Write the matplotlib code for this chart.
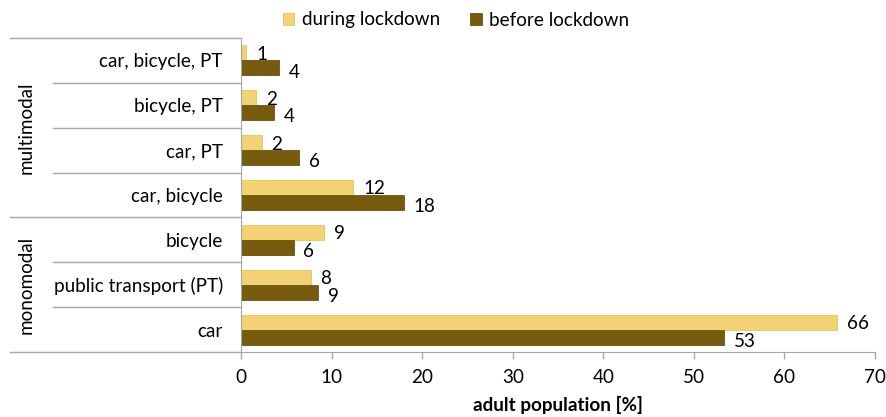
import matplotlib
matplotlib.use("Agg")
import matplotlib.pyplot as plt
from matplotlib.lines import Line2D
import numpy as np

categories = ["car", "public transport (PT)", "bicycle", "car, bicycle",
              "car, PT", "bicycle, PT", "car, bicycle, PT"]
during = [65.8, 7.7, 9.2, 12.4, 2.3, 1.7, 0.6]
before = [53.3, 8.5, 5.8, 18.0, 6.4, 3.6, 4.2]
during_labels = ["66", "8", "9", "12", "2", "2", "1"]
before_labels = ["53", "9", "6", "18", "6", "4", "4"]
groups = ["monomodal", "multimodal"]
group_sizes = [3, 4]
xticks = [0, 10, 20, 30, 40, 50, 60, 70]
series_names = ["during lockdown", "before lockdown"]

plt.rcParams['font.family'] = ['Lato', 'DejaVu Sans']
FS = 13.6
c_during = "#F2D275"
c_before = "#765B0E"
gray = "#A6A6A6"

W, H = 886, 417
fig = plt.figure(figsize=(W / 100, H / 100), dpi=100)
L, R, T, B = 241, 875, 38, 352
ax = fig.add_axes([L / W, 1 - B / H, (R - L) / W, (B - T) / H])

y = np.arange(len(categories))
h = 1 / 3
bd = ax.barh(y + h / 2, during, height=h, color=c_during, edgecolor="#E8C45E", linewidth=0.6,
             label=series_names[0])
bb = ax.barh(y - h / 2, before, height=h, color=c_before, edgecolor="#6A5210", linewidth=0.6,
             label=series_names[1])
for yi, v, t in zip(y, during, during_labels):
    ax.annotate(t, (v, yi + h / 2), xytext=(7, -1), textcoords="offset points",
                va="center", ha="left", fontsize=FS)
for yi, v, t in zip(y, before, before_labels):
    ax.annotate(t, (v, yi - h / 2), xytext=(7, -3), textcoords="offset points",
                va="center", ha="left", fontsize=FS)

ax.set_xlim(0, 70)
ax.set_ylim(-0.5, len(categories) - 0.5)
ax.set_xticks(xticks)
ax.set_xticklabels([str(t) for t in xticks], fontsize=FS)
ax.set_yticks(y)
ax.set_yticklabels(categories, fontsize=FS)
ax.tick_params(axis="y", length=0, pad=13)
ax.tick_params(axis="x", length=5, width=1, color=gray, pad=7, direction="out")
for s in ["top", "right"]:
    ax.spines[s].set_visible(False)
ax.spines["left"].set_color(gray)
ax.spines["bottom"].set_color(gray)

# left multi-level table lines (figure pixel coordinates)
def hline(x0, x1, yp):
    fig.add_artist(Line2D([x0 / W, x1 / W], [1 - yp / H, 1 - yp / H],
                          color=gray, linewidth=1, transform=fig.transFigure))

n = len(categories)
row_h = (B - T) / n
bounds = [B - i * row_h for i in range(n + 1)]
group_edges = [0, group_sizes[0], n]
for i, yp in enumerate(bounds):
    if i in group_edges:
        hline(10, L, yp)
    else:
        hline(53, L, yp)

start = 0
for g, sz in zip(groups, group_sizes):
    yc = B - (start + sz / 2) * row_h
    fig.text(26 / W, 1 - yc / H, g, rotation=90, ha="center", va="center", fontsize=FS)
    start += sz

leg = fig.legend(handles=[bd, bb], labels=series_names, loc="center",
                 bbox_to_anchor=(456 / W, 1 - 20 / H), ncol=2, frameon=False,
                 fontsize=FS, handlelength=0.6, handleheight=0.6, handletextpad=0.4,
                 columnspacing=1.6)

fig.text((L + R) / 2 / W, 1 - 414 / H, "adult population [%]", ha="center", va="bottom",
         fontsize=FS, fontweight="bold")

fig.savefig("out.png", dpi=100)
